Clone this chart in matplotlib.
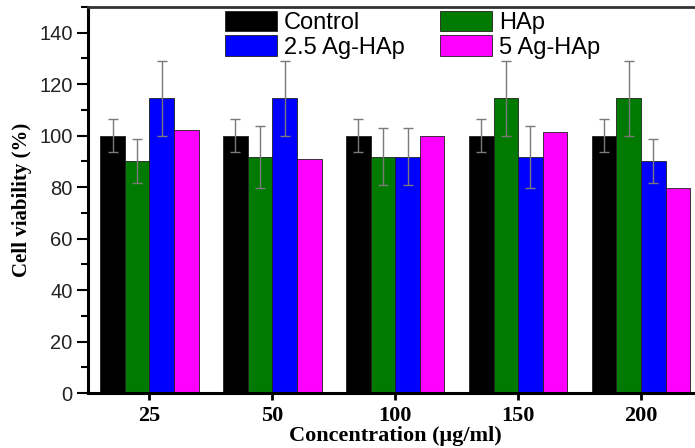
import numpy as np
import matplotlib
matplotlib.use("Agg")
import matplotlib.pyplot as plt
from matplotlib.ticker import MultipleLocator

# ---------- data ----------
concentrations = ["25", "50", "100", "150", "200"]
groups = ["Control", "HAp", "2.5 Ag-HAp", "5 Ag-HAp"]

control = [100, 100, 100, 100, 100]
control_err = [6.5, 6.5, 6.5, 6.5, 6.5]
hap = [90.3, 91.7, 91.9, 114.5, 114.5]
hap_err = [8.5, 12, 11, 14.5, 14.5]
ag25 = [114.5, 114.5, 91.9, 91.6, 90.2]
ag25_err = [14.5, 14.5, 11, 12, 8.5]
ag5 = [102.3, 90.9, 99.7, 101.6, 79.6]

colors = ["#000000", "#007a00", "#0000ff", "#ff00ff"]

# ---------- figure ----------
fig = plt.figure(figsize=(6.95, 4.48), dpi=100)
# axes runs past the right edge, as in the cropped original
ax = fig.add_axes([88 / 695, 55 / 448, 614.5 / 695, 386 / 448])

x = np.arange(len(concentrations))
width = 0.2
values = [control, hap, ag25, ag5]
errors = [control_err, hap_err, ag25_err, None]

bars = []
for i in range(4):
    pos = x + (i - 1.5) * width
    b = ax.bar(pos, values[i], width, color=colors[i], edgecolor="#202020",
               linewidth=0.6, label=groups[i], zorder=2)
    bars.append(b)
    if errors[i] is not None:
        ax.errorbar(pos, values[i], yerr=errors[i], fmt="none",
                    ecolor="#7a7a7a", elinewidth=1, capsize=3.5,
                    capthick=1, zorder=3)

ax.set_xlim(-0.5, 4.5)
ax.set_ylim(0, 150)
ax.set_xticks(x)
ax.set_xticklabels(concentrations, fontfamily="Liberation Serif",
                   fontweight="bold", fontsize=16)
ax.set_yticks(range(0, 141, 20))
ax.yaxis.set_minor_locator(MultipleLocator(10))
for lab in ax.get_yticklabels():
    lab.set_fontfamily("Liberation Sans")
    lab.set_fontsize(14.5)
    lab.set_color("#222222")

ax.tick_params(axis="y", which="major", direction="out", length=8, width=1.5, pad=3)
ax.tick_params(axis="y", which="minor", direction="out", length=5, width=1.5)
ax.tick_params(axis="x", which="major", direction="out", length=5, width=2, pad=4)
ax.tick_params(right=False, top=False)

ax.spines["left"].set_linewidth(2.2)
ax.spines["bottom"].set_linewidth(2.2)
ax.spines["top"].set_linewidth(2)
ax.spines["top"].set_color("#333333")
ax.spines["right"].set_visible(False)

ax.set_xlabel("Concentration (\u03bcg/ml)", fontfamily="Liberation Serif",
              fontweight="bold", fontsize=16, labelpad=0)
ax.set_ylabel("Cell viability (%)", fontfamily="Liberation Serif",
              fontweight="bold", fontsize=15, labelpad=5)

# legend: Control / HAp on first row, 2.5 Ag-HAp / 5 Ag-HAp on second
order = [0, 2, 1, 3]
leg = ax.legend([bars[k] for k in order], [groups[k] for k in order],
                ncol=2, loc="upper left", bbox_to_anchor=(225 / 695, 1 - 11 / 448),
                bbox_transform=fig.transFigure, frameon=False,
                prop={"family": "Liberation Sans", "size": 17},
                handlelength=2.2, handleheight=0.95, handletextpad=0.3,
                columnspacing=1.5, labelspacing=0.05, borderpad=0,
                borderaxespad=0)

fig.savefig("out.png", dpi=100)
